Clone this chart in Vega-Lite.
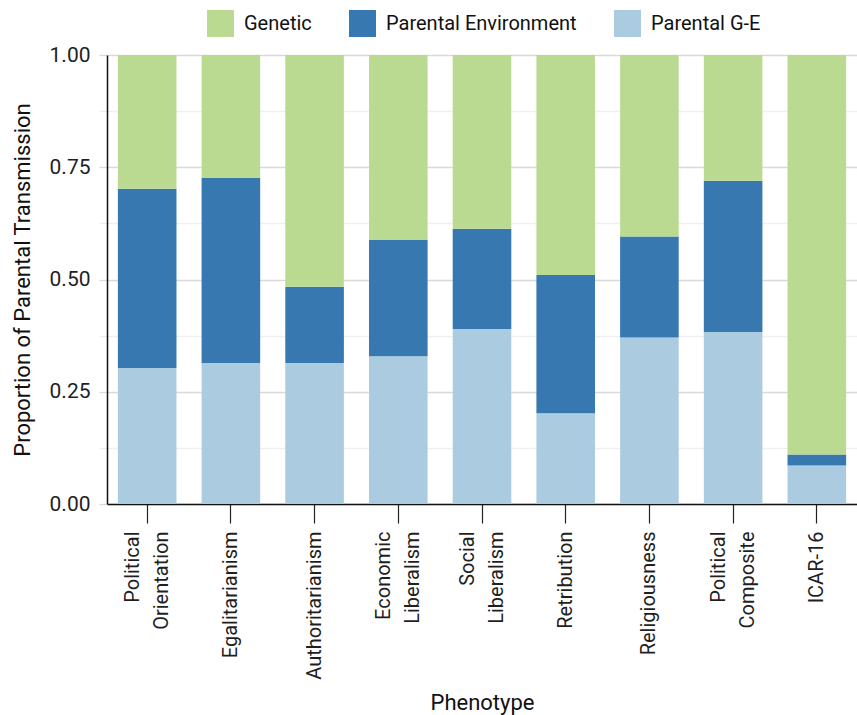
{
  "$schema": "https://vega.github.io/schema/vega-lite/v6.json",
  "autosize": {"type": "none"},
  "width": 750,
  "height": 449,
  "padding": {"left": 107, "top": 55, "right": 0, "bottom": 211},
  "background": "white",
  "config": {
    "font": "Roboto",
    "view": {"stroke": null},
    "axis": {"labelColor": "#1f1f1f", "titleColor": "#111111", "titleFontWeight": "normal"}
  },
  "data": {
    "values": [
      {"phenotype": "Political Orientation", "component": "Parental G-E", "value": 0.303},
      {"phenotype": "Political Orientation", "component": "Parental Environment", "value": 0.399},
      {"phenotype": "Political Orientation", "component": "Genetic", "value": 0.298},
      {"phenotype": "Egalitarianism", "component": "Parental G-E", "value": 0.314},
      {"phenotype": "Egalitarianism", "component": "Parental Environment", "value": 0.412},
      {"phenotype": "Egalitarianism", "component": "Genetic", "value": 0.274},
      {"phenotype": "Authoritarianism", "component": "Parental G-E", "value": 0.314},
      {"phenotype": "Authoritarianism", "component": "Parental Environment", "value": 0.170},
      {"phenotype": "Authoritarianism", "component": "Genetic", "value": 0.516},
      {"phenotype": "Economic Liberalism", "component": "Parental G-E", "value": 0.329},
      {"phenotype": "Economic Liberalism", "component": "Parental Environment", "value": 0.259},
      {"phenotype": "Economic Liberalism", "component": "Genetic", "value": 0.412},
      {"phenotype": "Social Liberalism", "component": "Parental G-E", "value": 0.390},
      {"phenotype": "Social Liberalism", "component": "Parental Environment", "value": 0.223},
      {"phenotype": "Social Liberalism", "component": "Genetic", "value": 0.387},
      {"phenotype": "Retribution", "component": "Parental G-E", "value": 0.202},
      {"phenotype": "Retribution", "component": "Parental Environment", "value": 0.308},
      {"phenotype": "Retribution", "component": "Genetic", "value": 0.490},
      {"phenotype": "Religiousness", "component": "Parental G-E", "value": 0.371},
      {"phenotype": "Religiousness", "component": "Parental Environment", "value": 0.225},
      {"phenotype": "Religiousness", "component": "Genetic", "value": 0.404},
      {"phenotype": "Political Composite", "component": "Parental G-E", "value": 0.383},
      {"phenotype": "Political Composite", "component": "Parental Environment", "value": 0.337},
      {"phenotype": "Political Composite", "component": "Genetic", "value": 0.280},
      {"phenotype": "ICAR-16", "component": "Parental G-E", "value": 0.086},
      {"phenotype": "ICAR-16", "component": "Parental Environment", "value": 0.024},
      {"phenotype": "ICAR-16", "component": "Genetic", "value": 0.890}
    ]
  },
  "mark": {"type": "bar"},
  "encoding": {
    "x": {
      "field": "phenotype",
      "type": "nominal",
      "sort": null,
      "title": "Phenotype",
      "scale": {"paddingInner": 0.3, "paddingOuter": 0.13},
      "axis": {
        "labelAngle": 270,
        "labelAlign": "right",
        "labelBaseline": "middle",
        "labelFontSize": 20,
        "labelLineHeight": 29,
        "labelPadding": 8,
        "labelLimit": 0,
        "labelOverlap": false,
        "labelExpr": "indexof(datum.label, ' ') > 0 ? split(datum.label, ' ') : datum.label",
        "labelOffset": {"condition": {"test": "indexof(datum.value, ' ') > 0", "value": -14.5}, "value": 0},
        "tickSize": 19,
        "tickColor": "#222222",
        "tickWidth": 1.2,
        "domainColor": "#111111",
        "domainWidth": 1.5,
        "titleFontSize": 22,
        "titlePadding": 13,
        "grid": false
      }
    },
    "y": {
      "field": "value",
      "type": "quantitative",
      "stack": "zero",
      "title": "Proportion of Parental Transmission",
      "scale": {"domain": [0, 1], "nice": false},
      "axis": {
        "values": [0, 0.125, 0.25, 0.375, 0.5, 0.625, 0.75, 0.875, 1],
        "labelExpr": "datum.value % 0.25 == 0 ? format(datum.value, '.2f') : ''",
        "labelFontSize": 21,
        "labelPadding": 9,
        "tickSize": 8,
        "tickColor": {"condition": {"test": "datum.value % 0.25 == 0", "value": "#d9d9d9"}, "value": "#efefef"},
        "gridColor": {"condition": {"test": "datum.value % 0.25 == 0", "value": "#d9d9d9"}, "value": "#efefef"},
        "gridWidth": 1.3,
        "tickWidth": 1.3,
        "domainColor": "#111111",
        "domainWidth": 1.5,
        "titleFontSize": 22,
        "titlePadding": 15
      }
    },
    "color": {
      "field": "component",
      "type": "nominal",
      "title": null,
      "scale": {
        "domain": ["Genetic", "Parental Environment", "Parental G-E"],
        "range": ["#bbda91", "#3778b0", "#abcce0"]
      },
      "legend": {
        "orient": "none",
        "direction": "horizontal",
        "legendX": 100,
        "legendY": -45,
        "symbolType": "square",
        "symbolSize": 729,
        "symbolStrokeWidth": 0,
        "symbolOpacity": 1,
        "labelFontSize": 20,
        "labelLimit": 0,
        "labelOffset": 10,
        "labelColor": "#111111",
        "columnPadding": 37,
        "padding": 0
      }
    },
    "order": {"field": "component", "sort": "descending"}
  }
}
